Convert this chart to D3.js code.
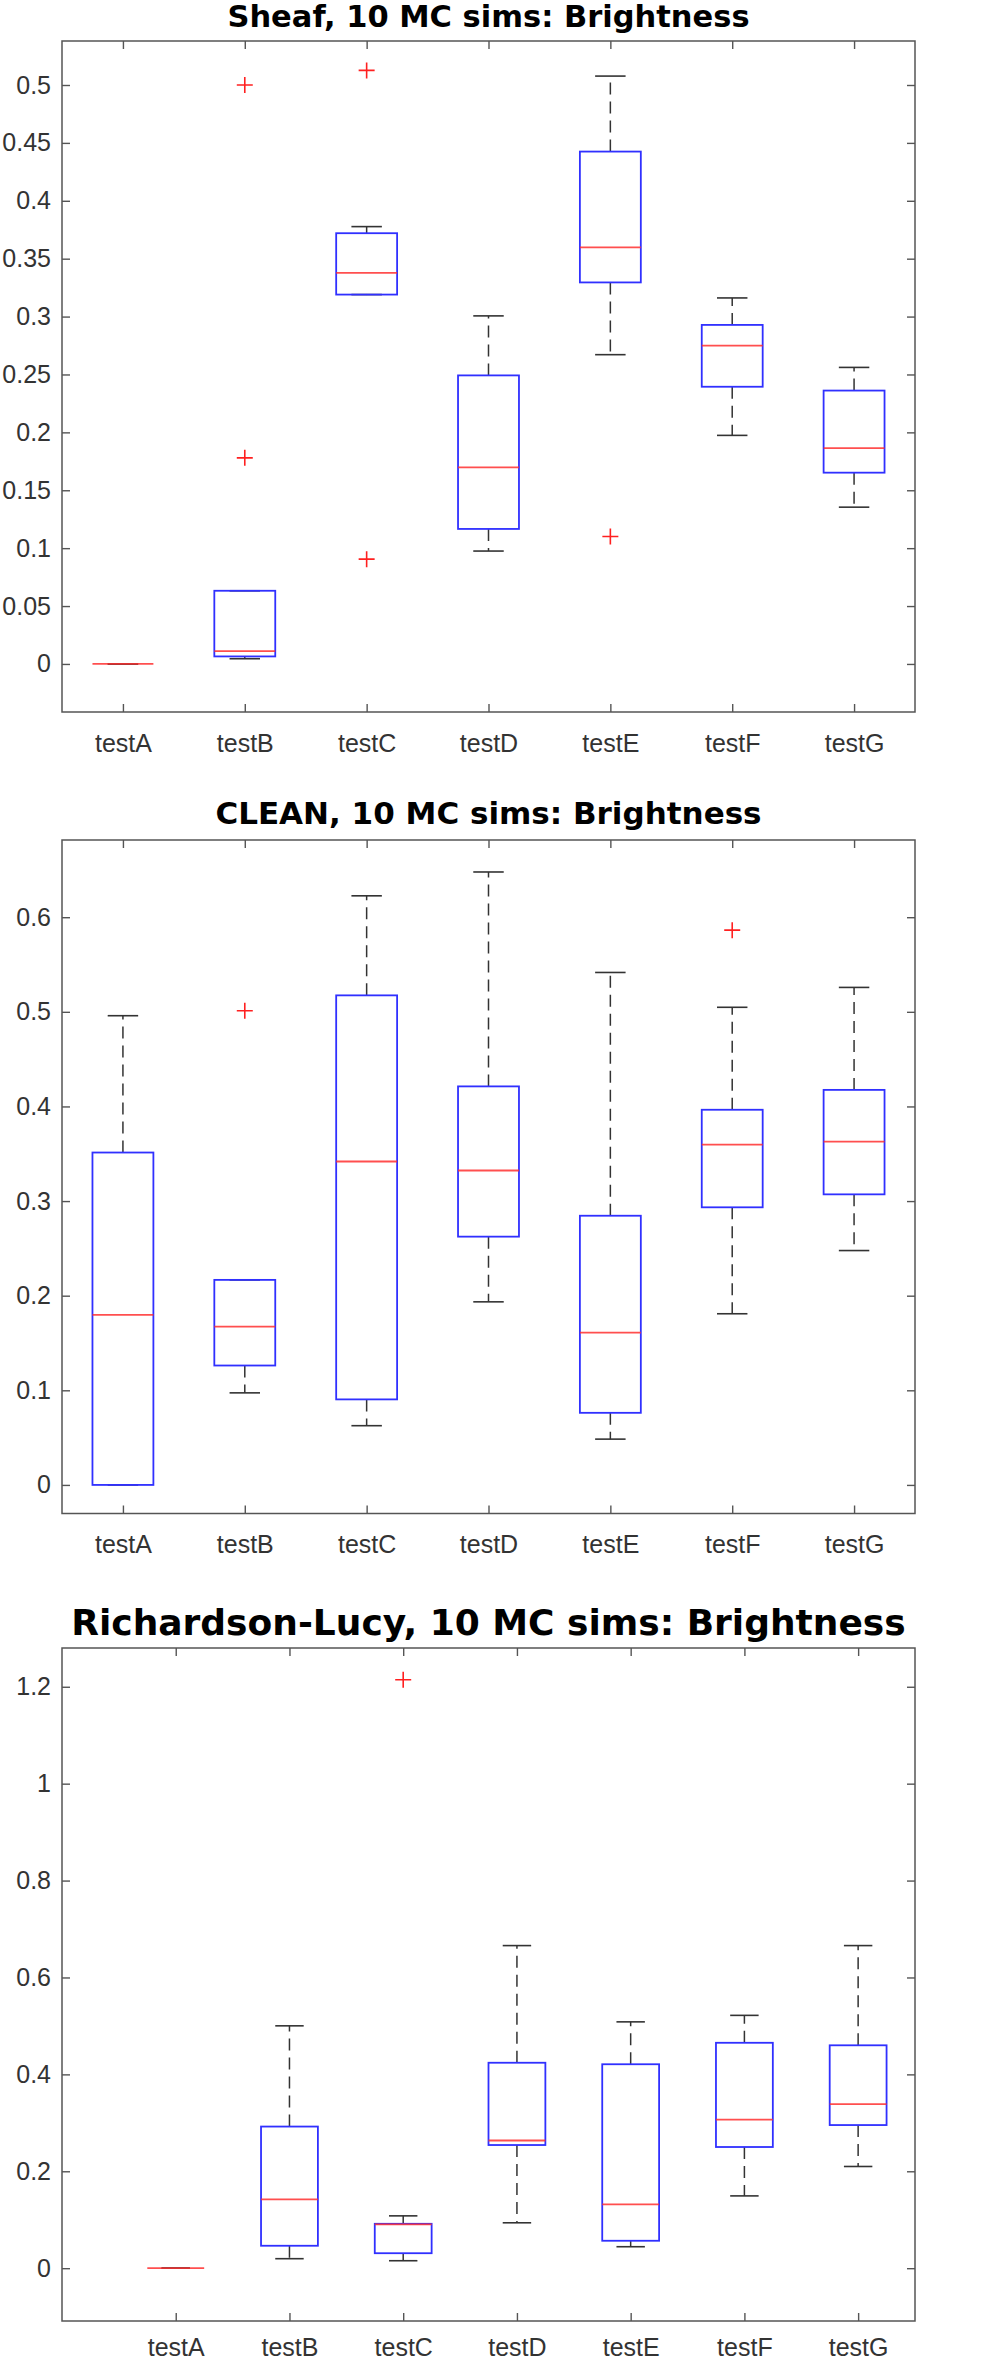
<!DOCTYPE html>
<html>
<head>
<meta charset="utf-8">
<script src="https://cdn.jsdelivr.net/npm/d3@7"></script>
<style>
body { margin: 0; background: #fff; }
</style>
</head>
<body>
<div id="container"></div>
<script>

var categories = ["testA", "testB", "testC", "testD", "testE", "testF", "testG"];

// Sheaf
var sheafLow    = [0, 0.0045, 0.319,  0.0975, 0.2671, 0.1974, 0.1354];
var sheafQ1     = [0, 0.0065, 0.319,  0.1166, 0.3295, 0.2394, 0.1652];
var sheafMedian = [0, 0.011,  0.3377, 0.1697, 0.3597, 0.2749, 0.1864];
var sheafQ3     = [0, 0.0632, 0.372,  0.2492, 0.4425, 0.2928, 0.2361];
var sheafHigh   = [0, 0.0632, 0.3777, 0.3006, 0.5077, 0.3161, 0.2561];
var sheafOutliers = [["testB", 0.5], ["testB", 0.178], ["testC", 0.5126], ["testC", 0.0905], ["testE", 0.1101]];
var sheafTicks = [0, 0.05, 0.1, 0.15, 0.2, 0.25, 0.3, 0.35, 0.4, 0.45, 0.5];

// CLEAN
var cleanLow    = [0,      0.0973, 0.0626, 0.1935, 0.0484, 0.1809, 0.2477];
var cleanQ1     = [0,      0.1262, 0.0904, 0.2624, 0.0762, 0.2934, 0.3071];
var cleanMedian = [0.1798, 0.1672, 0.3418, 0.3323, 0.1609, 0.3597, 0.3628];
var cleanQ3     = [0.3513, 0.2167, 0.5174, 0.4212, 0.2845, 0.3965, 0.4175];
var cleanHigh   = [0.4959, 0.2167, 0.6226, 0.6478, 0.5416, 0.5048, 0.5258];
var cleanOutliers = [["testB", 0.5011], ["testF", 0.5863]];
var cleanTicks = [0, 0.1, 0.2, 0.3, 0.4, 0.5, 0.6];

// Richardson-Lucy
var rlLow    = [0, 0.0196, 0.0154, 0.0937, 0.0443, 0.1492, 0.2099];
var rlQ1     = [0, 0.0463, 0.0309, 0.2542, 0.0566, 0.2501, 0.2954];
var rlMedian = [0, 0.142,  0.0906, 0.2635, 0.1317, 0.3067, 0.3386];
var rlQ3     = [0, 0.2923, 0.0916, 0.424,  0.4209, 0.4652, 0.46];
var rlHigh   = [0, 0.5002, 0.108,  0.6658, 0.5084, 0.5218, 0.6658];
var rlOutliers = [["testC", 1.2144]];
var rlTicks = [0, 0.2, 0.4, 0.6, 0.8, 1, 1.2];

var W = 981, H = 2362;
var left = 62, right = 915;

var svg = d3.select("#container").append("svg")
    .attr("width", W)
    .attr("height", H)
    .style("display", "block");

var panel = function(opt){

    var x = d3.scaleLinear().domain(opt.xDomain).range([left, right]);
    var y = d3.scaleLinear().domain(opt.yDomain).range([opt.bottom, opt.top]);
    var unit = x(1) - x(0);

    var g = svg.append("g");

    var rows = categories.map(function(c, i){
	return { name: c, pos: i + 1, low: opt.low[i], q1: opt.q1[i],
		 med: opt.med[i], q3: opt.q3[i], high: opt.high[i] };
    });

    // title
    g.append("text")
	.attr("x", (left + right) / 2)
	.attr("y", opt.titleY)
	.attr("text-anchor", "middle")
	.style("font-family", "'DejaVu Sans'")
	.style("font-weight", "bold")
	.style("font-size", opt.titleSize + "px")
	.style("fill", "#000")
	.text(opt.title);

    // axes, ticks pointing inwards like matlab
    var tickFont = function(sel){
	sel.select(".domain").remove();
	sel.selectAll("line").attr("stroke", "#555").attr("stroke-width", 1.4);
	sel.selectAll("text")
	    .style("font-family", "'Liberation Sans', Arial, sans-serif")
	    .style("font-size", "25px")
	    .style("fill", "#333");
    };

    g.append("g")
	.attr("transform", "translate(" + left + ",0)")
	.call(d3.axisLeft(y).tickValues(opt.ticks).tickSize(-8).tickPadding(11)
	      .tickFormat(d3.format("~g")))
	.call(tickFont);

    g.append("g")
	.attr("transform", "translate(" + right + ",0)")
	.call(d3.axisRight(y).tickValues(opt.ticks).tickSize(-8).tickFormat(""))
	.call(tickFont);

    g.append("g")
	.attr("transform", "translate(0," + opt.bottom + ")")
	.call(d3.axisBottom(x).tickValues(d3.range(1, 8)).tickSize(-8).tickPadding(opt.labelPad)
	      .tickFormat(function(d){ return categories[d - 1]; }))
	.call(tickFont);

    g.append("g")
	.attr("transform", "translate(0," + opt.top + ")")
	.call(d3.axisTop(x).tickValues(d3.range(1, 8)).tickSize(-8).tickFormat(""))
	.call(tickFont);

    g.append("rect")
	.attr("x", left)
	.attr("y", opt.top)
	.attr("width", right - left)
	.attr("height", opt.bottom - opt.top)
	.attr("fill", "none")
	.attr("stroke", "#555")
	.attr("stroke-width", 1.5);

    var boxes = g.selectAll(".bx").data(rows).enter().append("g");

    // whiskers
    boxes.append("line")
	.attr("x1", function(d){ return x(d.pos); })
	.attr("x2", function(d){ return x(d.pos); })
	.attr("y1", function(d){ return y(d.q3); })
	.attr("y2", function(d){ return y(d.high); })
	.attr("stroke", "#333").attr("stroke-width", 1.5)
	.attr("stroke-dasharray", "12 7");
    boxes.append("line")
	.attr("x1", function(d){ return x(d.pos); })
	.attr("x2", function(d){ return x(d.pos); })
	.attr("y1", function(d){ return y(d.q1); })
	.attr("y2", function(d){ return y(d.low); })
	.attr("stroke", "#333").attr("stroke-width", 1.5)
	.attr("stroke-dasharray", "12 7");

    // caps
    ["high", "low"].forEach(function(k){
	boxes.append("line")
	    .attr("x1", function(d){ return x(d.pos - 0.125); })
	    .attr("x2", function(d){ return x(d.pos + 0.125); })
	    .attr("y1", function(d){ return y(d[k]); })
	    .attr("y2", function(d){ return y(d[k]); })
	    .attr("stroke", "#333").attr("stroke-width", 1.6);
    });

    // box
    boxes.append("rect")
	.attr("x", function(d){ return x(d.pos - 0.25); })
	.attr("width", unit * 0.5)
	.attr("y", function(d){ return y(d.q3); })
	.attr("height", function(d){ return y(d.q1) - y(d.q3); })
	.attr("fill", "none")
	.attr("stroke", "#3030ff")
	.attr("stroke-width", 1.8);

    // median
    boxes.append("line")
	.attr("x1", function(d){ return x(d.pos - 0.25); })
	.attr("x2", function(d){ return x(d.pos + 0.25); })
	.attr("y1", function(d){ return y(d.med); })
	.attr("y2", function(d){ return y(d.med); })
	.attr("stroke", "#ff3030")
	.attr("stroke-opacity", 0.85)
	.attr("stroke-width", 1.8);

    // outliers as '+'
    g.selectAll(".out").data(opt.outliers).enter().append("path")
	.attr("d", function(d){
	    var cx = x(categories.indexOf(d[0]) + 1), cy = y(d[1]);
	    return "M" + (cx - 8) + "," + cy + "H" + (cx + 8) +
		"M" + cx + "," + (cy - 8) + "V" + (cy + 8);
	})
	.attr("stroke", "#ff2020")
	.attr("stroke-width", 1.6)
	.attr("fill", "none");
};

panel({
    title: "Sheaf, 10 MC sims: Brightness", titleY: 27, titleSize: 30.5,
    top: 41, bottom: 712, xDomain: [0.5, 7.5], yDomain: [-0.0415, 0.538],
    low: sheafLow, q1: sheafQ1, med: sheafMedian, q3: sheafQ3, high: sheafHigh,
    outliers: sheafOutliers, ticks: sheafTicks, labelPad: 22
});

panel({
    title: "CLEAN, 10 MC sims: Brightness", titleY: 824, titleSize: 31,
    top: 840, bottom: 1513.5, xDomain: [0.5, 7.5], yDomain: [-0.0302, 0.6816],
    low: cleanLow, q1: cleanQ1, med: cleanMedian, q3: cleanQ3, high: cleanHigh,
    outliers: cleanOutliers, ticks: cleanTicks, labelPad: 22
});

panel({
    title: "Richardson-Lucy, 10 MC sims: Brightness", titleY: 1635, titleSize: 36,
    top: 1648, bottom: 2321, xDomain: [0, 7.5], yDomain: [-0.109, 1.28],
    low: rlLow, q1: rlQ1, med: rlMedian, q3: rlQ3, high: rlHigh,
    outliers: rlOutliers, ticks: rlTicks, labelPad: 17
});

</script>
</body>
</html>
